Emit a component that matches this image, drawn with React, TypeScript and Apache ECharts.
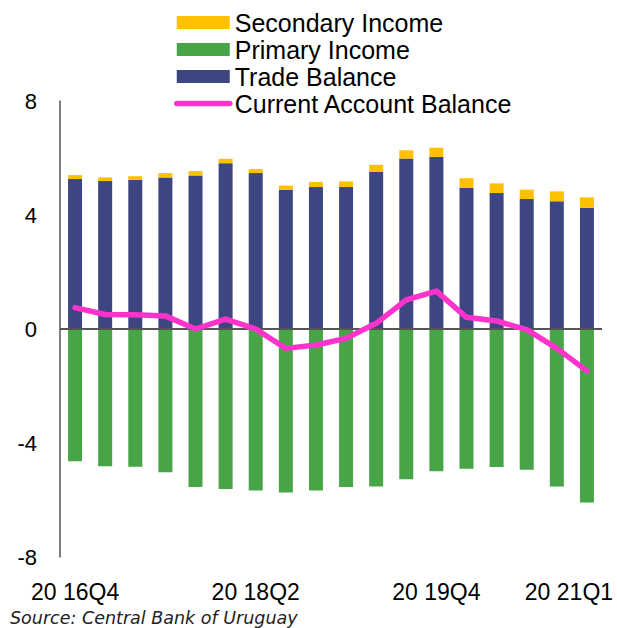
import React, { useEffect, useRef } from 'react';
import * as echarts from 'echarts';

const categories = [
  '20 16Q4', '20 17Q1', '20 17Q2', '20 17Q3', '20 17Q4', '20 18Q1', '20 18Q2', '20 18Q3', '20 18Q4',
  '20 19Q1', '20 19Q2', '20 19Q3', '20 19Q4', '20 20Q1', '20 20Q2', '20 20Q3', '20 20Q4', '20 21Q1',
];
const tradeBalance = [5.26, 5.19, 5.23, 5.32, 5.39, 5.82, 5.47, 4.88, 4.98, 4.98, 5.51, 5.98, 6.04, 4.95, 4.77, 4.56, 4.48, 4.25];
const primaryIncome = [-4.64, -4.82, -4.83, -5.03, -5.54, -5.61, -5.67, -5.74, -5.67, -5.54, -5.53, -5.27, -4.99, -4.9, -4.84, -4.94, -5.53, -6.09];
const secondaryIncome = [0.14, 0.13, 0.13, 0.15, 0.15, 0.15, 0.14, 0.15, 0.18, 0.2, 0.25, 0.29, 0.32, 0.34, 0.34, 0.33, 0.35, 0.37];
const currentAccount = [0.75, 0.51, 0.5, 0.46, 0.0, 0.35, 0.0, -0.68, -0.56, -0.33, 0.2, 1.02, 1.33, 0.41, 0.28, -0.02, -0.68, -1.47];
const shownLabelIndices = [0, 6, 12, 17];
const yMin = -8;
const yMax = 8;
const yInterval = 4;
const sourceText = 'Source: Central Bank of Uruguay';

const FONT = "'Liberation Sans', Arial, sans-serif";
const C_TRADE = '#3D4680';
const C_PRIMARY = '#47A447';
const C_SECONDARY = '#FFC000';
const C_CA = '#FF33CC';

export default function App() {
  const ref = useRef<HTMLDivElement>(null);
  useEffect(() => {
    if (!ref.current) return;
    const chart = echarts.init(ref.current, null, { renderer: 'svg' });
    const lastIdx = categories.length - 1;
    chart.setOption({
      animation: false,
      backgroundColor: '#ffffff',
      grid: { left: 60, right: 15, top: 101, bottom: 71, containLabel: false },
      legend: {
        orient: 'vertical',
        left: 174,
        top: 10,
        padding: 0,
        itemGap: 2,
        itemWidth: 53,
        itemHeight: 13,
        selectedMode: false,
        textStyle: { fontFamily: FONT, fontSize: 25, color: '#000', lineHeight: 25 },
        lineStyle: { width: 'inherit', cap: 'round' },
        data: [
          { name: 'Secondary Income', icon: 'rect' },
          { name: 'Primary Income', icon: 'rect' },
          { name: 'Trade Balance', icon: 'rect' },
          { name: 'Current Account Balance', itemStyle: { opacity: 0 } },
        ],
      },
      xAxis: {
        type: 'category',
        data: categories,
        boundaryGap: true,
        axisLine: { show: false, onZero: false },
        axisTick: { show: false },
        splitLine: { show: false },
        axisLabel: {
          interval: (i: number) => shownLabelIndices.includes(i),
          margin: 23,
          fontFamily: FONT,
          fontSize: 23,
          color: '#000',
          formatter: (v: string, i: number) => (i === lastIdx ? `{last|${v}}` : v),
          rich: {
            last: { fontFamily: FONT, fontSize: 23, color: '#000', padding: [0, 36, 0, 0] },
          },
        },
      },
      yAxis: {
        type: 'value',
        min: yMin,
        max: yMax,
        interval: yInterval,
        axisLine: { show: true, lineStyle: { color: '#555', width: 1.5 } },
        axisTick: { show: false },
        splitLine: { show: false },
        axisLabel: { margin: 23, fontFamily: FONT, fontSize: 22, color: '#000' },
      },
      series: [
        {
          name: 'Trade Balance',
          type: 'bar',
          stack: 'total',
          barWidth: 14,
          data: tradeBalance,
          itemStyle: { color: C_TRADE },
        },
        {
          name: 'Primary Income',
          type: 'bar',
          stack: 'total',
          barWidth: 14,
          data: primaryIncome,
          itemStyle: { color: C_PRIMARY },
        },
        {
          name: 'Secondary Income',
          type: 'bar',
          stack: 'total',
          barWidth: 14,
          data: secondaryIncome,
          itemStyle: { color: C_SECONDARY },
          markLine: {
            silent: true,
            symbol: 'none',
            label: { show: false },
            lineStyle: { color: '#555', width: 2, type: 'solid' },
            data: [{ yAxis: 0 }],
          },
        },
        {
          name: 'Current Account Balance',
          type: 'line',
          data: currentAccount,
          symbol: 'none',
          z: 5,
          lineStyle: { color: C_CA, width: 5.5, cap: 'round', join: 'round' },
          itemStyle: { color: C_CA },
        },
      ],
      graphic: [
        {
          type: 'text',
          left: 10,
          top: 609,
          style: {
            text: sourceText,
            fontFamily: "'DejaVu Sans', Verdana, sans-serif",
            fontStyle: 'italic',
            fontSize: 17.5,
            fill: '#222',
          },
        },
      ],
    });
    return () => chart.dispose();
  }, []);
  return (
    <div
      ref={ref}
      style={{ position: 'absolute', left: 0, top: 0, width: 617, height: 628, background: '#fff' }}
    />
  );
}
